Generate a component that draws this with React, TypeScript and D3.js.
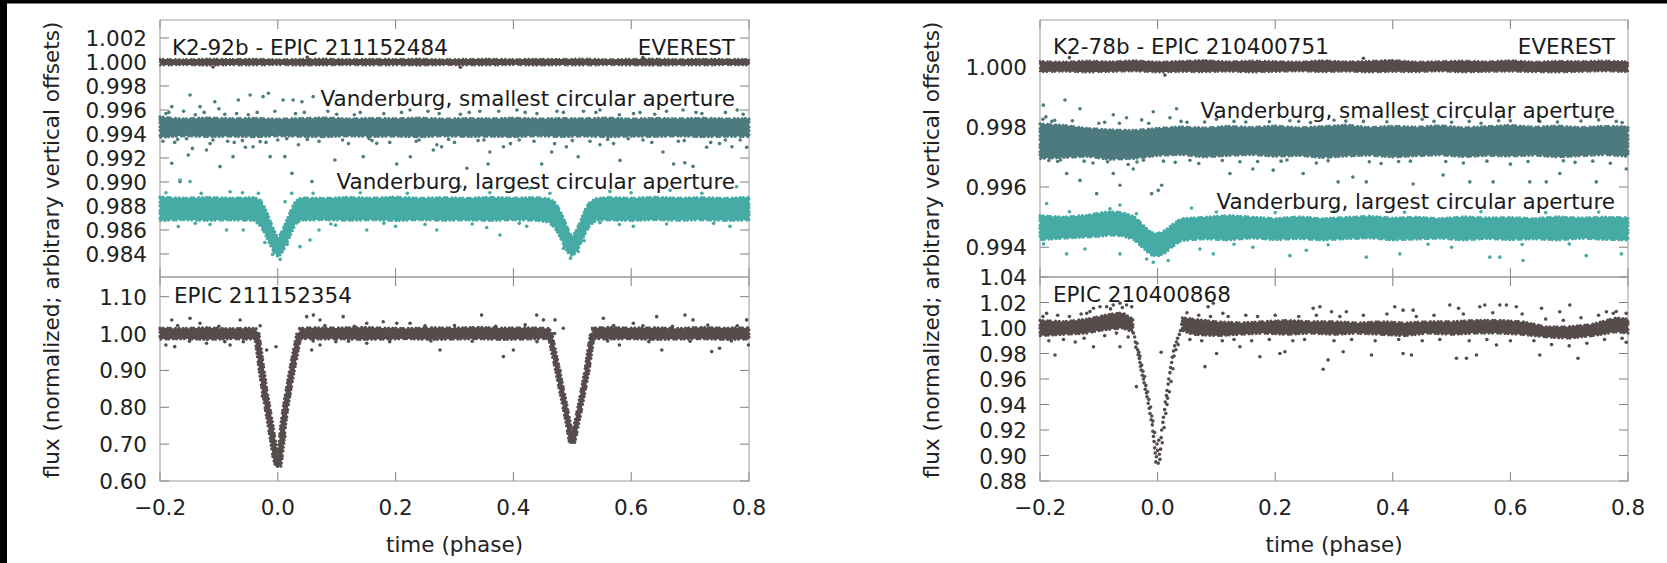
import React from 'react';
import * as d3 from 'd3';

// ---- axes ----
const phaseTicks = [-0.2, 0, 0.2, 0.4, 0.6, 0.8];
const k92TopTicks = [0.984, 0.986, 0.988, 0.99, 0.992, 0.994, 0.996, 0.998, 1.0, 1.002];
const k92BotTicks = [0.6, 0.7, 0.8, 0.9, 1.0, 1.1];
const k78TopTicks = [0.994, 0.996, 0.998, 1.0];
const k78BotTicks = [0.88, 0.9, 0.92, 0.94, 0.96, 0.98, 1.0, 1.02, 1.04];

// common phase knots for the flat light curves
const flatGrid = [-0.2, -0.16, -0.12, -0.08, -0.04, 0, 0.04, 0.08, 0.12, 0.16, 0.2, 0.24, 0.28, 0.32, 0.36, 0.4, 0.44, 0.48, 0.52, 0.56, 0.6, 0.64, 0.68, 0.72, 0.76, 0.8];

// ---- K2-92b, EVEREST ----
const k92EverestLo = [0.99972, 0.99975, 0.99971, 0.99974, 0.99972, 0.99976, 0.99971, 0.99973, 0.99975, 0.99972, 0.99974, 0.99971, 0.99975, 0.99973, 0.99972, 0.99976, 0.99971, 0.99974, 0.99972, 0.99975, 0.99973, 0.99971, 0.99974, 0.99972, 0.99975, 0.99973];
const k92EverestHi = [1.00025, 1.00022, 1.00027, 1.00024, 1.00026, 1.00022, 1.00025, 1.00028, 1.00023, 1.00026, 1.00024, 1.00027, 1.00022, 1.00025, 1.00027, 1.00023, 1.00026, 1.00024, 1.00028, 1.00022, 1.00025, 1.00027, 1.00023, 1.00026, 1.00024, 1.00025];
const k92EverestDots: [number, number][] = [[-0.11, 0.99958], [0.31, 0.99956], [0.62, 1.00038], [0.05, 1.00039]];

// ---- K2-92b, Vanderburg smallest aperture ----
const k92SmallLo = [0.99372, 0.99385, 0.99378, 0.99382, 0.99376, 0.99385, 0.9938, 0.99377, 0.99384, 0.99379, 0.99382, 0.99376, 0.99384, 0.99379, 0.99381, 0.99377, 0.99385, 0.99378, 0.99383, 0.99376, 0.99382, 0.99379, 0.99384, 0.99377, 0.99381, 0.99378];
const k92SmallHi = [0.99542, 0.99525, 0.99535, 0.99528, 0.99532, 0.99524, 0.9953, 0.99535, 0.99526, 0.99531, 0.99528, 0.99534, 0.99525, 0.9953, 0.99527, 0.99533, 0.99526, 0.9953, 0.99528, 0.99534, 0.99525, 0.99531, 0.99527, 0.99532, 0.99526, 0.9953];
const k92SmallDots: [number, number][] = [
  [-0.18, 0.99628], [-0.149, 0.99725], [-0.132, 0.99628], [-0.107, 0.99669], [-0.067, 0.99683], [-0.047, 0.99725], [-0.025, 0.99711], [-0.016, 0.99739], [0.009, 0.99683], [0.026, 0.99683], [0.041, 0.99669], [0.06, 0.99711],
  [-0.18, 0.99156], [-0.152, 0.99225], [-0.121, 0.99267], [-0.098, 0.99128], [-0.076, 0.99211], [-0.074, 0.9933], [-0.042, 0.99294], [-0.03, 0.99336], [-0.013, 0.99211], [0.012, 0.99211], [0.024, 0.99072], [0.058, 0.99003], [-0.166, 0.99003], [0.097, 0.99183], [0.145, 0.99211], [0.168, 0.99322], [0.202, 0.9915], [0.225, 0.9921],
  [0.264, 0.99267], [0.278, 0.99294], [0.321, 0.99114], [0.357, 0.9915], [0.36, 0.9925], [0.383, 0.99294], [0.448, 0.9915], [0.465, 0.9925], [0.49, 0.99294], [0.51, 0.9921], [0.547, 0.9931], [0.581, 0.9918], [0.654, 0.9925], [0.672, 0.9915], [0.691, 0.9916], [0.705, 0.9913], [0.728, 0.9929], [0.75, 0.9932], [0.771, 0.99294], [0.796, 0.9929],
  [0.2245, 0.996], [0.274, 0.9957], [0.343, 0.9959], [0.406, 0.996], [0.474, 0.9959], [0.519, 0.9959], [0.547, 0.996], [0.604, 0.9957], [0.688, 0.996], [0.78, 0.996],
  [-0.19, 0.9957], [-0.14, 0.9956], [-0.09, 0.99565], [-0.05, 0.9956], [0.03, 0.9957], [0.1, 0.99565], [0.13, 0.9956], [0.18, 0.9957], [0.31, 0.99565], [0.44, 0.9957], [0.58, 0.9956], [0.64, 0.99565], [0.72, 0.9957], [0.79, 0.99565],
  [-0.17, 0.99355], [-0.11, 0.9935], [-0.06, 0.99345], [0.0, 0.9935], [0.05, 0.99355], [0.11, 0.9935], [0.16, 0.99345], [0.24, 0.9935], [0.29, 0.99355], [0.34, 0.99345], [0.41, 0.9935], [0.5, 0.99345], [0.56, 0.99355], [0.62, 0.9935], [0.69, 0.99345], [0.76, 0.9935],
  [-0.195, 0.9934], [-0.185, 0.9958], [-0.175, 0.9933], [-0.16, 0.9959], [-0.155, 0.9936], [-0.145, 0.9928], [-0.125, 0.9958], [-0.115, 0.9932], [-0.1, 0.9961], [-0.085, 0.9934], [-0.07, 0.9957], [-0.055, 0.9929], [-0.035, 0.9958], [-0.02, 0.9933], [-0.005, 0.9959], [0.015, 0.9936], [0.035, 0.9931], [0.045, 0.9958], [0.07, 0.9934], [0.085, 0.9959], [0.12, 0.9932], [0.14, 0.9958], [0.155, 0.9936], [0.19, 0.9933], [0.21, 0.9958], [0.235, 0.9934], [0.255, 0.9959], [0.27, 0.9931], [0.3, 0.9933], [0.325, 0.9958], [0.35, 0.9935], [0.375, 0.9959], [0.395, 0.9932], [0.42, 0.9958], [0.435, 0.9934], [0.47, 0.9932], [0.485, 0.9958], [0.53, 0.9934], [0.54, 0.9958], [0.57, 0.9932], [0.595, 0.9936], [0.615, 0.9958], [0.635, 0.9933], [0.66, 0.9959], [0.68, 0.9934], [0.71, 0.9958], [0.735, 0.9933], [0.76, 0.9958], [0.785, 0.9935],
];

// ---- K2-92b, Vanderburg largest aperture (two eclipses) ----
const k92LargePhase = [-0.2, -0.16, -0.12, -0.08, -0.04, -0.03, -0.024, -0.018, -0.012, -0.006, 0, 0.006, 0.012, 0.018, 0.024, 0.03, 0.04, 0.08, 0.12, 0.16, 0.2, 0.24, 0.28, 0.32, 0.36, 0.4, 0.44, 0.46, 0.47, 0.476, 0.482, 0.488, 0.494, 0.5, 0.506, 0.512, 0.518, 0.524, 0.53, 0.54, 0.56, 0.6, 0.64, 0.68, 0.72, 0.76, 0.8];
const k92LargeLo = [0.98678, 0.98686, 0.9868, 0.98684, 0.9868, 0.98635, 0.9859, 0.9853, 0.98465, 0.9841, 0.9838, 0.984, 0.98455, 0.9852, 0.98585, 0.9865, 0.98682, 0.98686, 0.9868, 0.98685, 0.98678, 0.98686, 0.9868, 0.98684, 0.98679, 0.98685, 0.9868, 0.98665, 0.9862, 0.9857, 0.9851, 0.9845, 0.98405, 0.98385, 0.9841, 0.98465, 0.9853, 0.9859, 0.9864, 0.9868, 0.98684, 0.98679, 0.98686, 0.9868, 0.98685, 0.98679, 0.98683];
const k92LargeHi = [0.98875, 0.98865, 0.98872, 0.98866, 0.9887, 0.9885, 0.98805, 0.9874, 0.98665, 0.98595, 0.9853, 0.9858, 0.98645, 0.98715, 0.98785, 0.9884, 0.98868, 0.98864, 0.98872, 0.98866, 0.98874, 0.98865, 0.9887, 0.98864, 0.98873, 0.98866, 0.98871, 0.9886, 0.98835, 0.9879, 0.98735, 0.98665, 0.98595, 0.9854, 0.9859, 0.98655, 0.98725, 0.9879, 0.98835, 0.98862, 0.98872, 0.98865, 0.98873, 0.98866, 0.9887, 0.98864, 0.98872];
const k92LargeDots: [number, number][] = [
  [-0.169, 0.98628], [-0.115, 0.98645], [-0.087, 0.986], [-0.0586, 0.986], [0.0377, 0.98461], [0.0547, 0.98517], [0.07, 0.986], [0.098, 0.9864], [0.151, 0.986], [0.2, 0.9863], [0.27, 0.986], [0.3547, 0.9862], [0.377, 0.98558], [0.4226, 0.9863], [0.547, 0.9866], [0.6036, 0.9863], [0.7677, 0.9863],
  [-0.166, 0.99017], [-0.149, 0.99003], [-0.081, 0.98919], [-0.033, 0.98905], [0.0122, 0.98836], [0.0236, 0.98905], [0.3093, 0.98961], [0.428, 0.98947], [0.462, 0.98905], [0.564, 0.9892], [0.666, 0.9893], [0.779, 0.9896],
  [-0.19, 0.9891], [-0.13, 0.98905], [-0.06, 0.9891], [0.06, 0.98905], [0.14, 0.9891], [0.22, 0.98905], [0.36, 0.9891], [0.6, 0.9891], [0.72, 0.98905],
  [-0.14, 0.98655], [-0.03, 0.98645], [0.09, 0.9865], [0.18, 0.98655], [0.25, 0.98645], [0.33, 0.9865], [0.41, 0.98655], [0.58, 0.98645], [0.66, 0.9865], [0.74, 0.98655],
  [-0.022, 0.98495], [-0.009, 0.98395], [0.004, 0.98355], [0.016, 0.9848], [0.485, 0.98445], [0.497, 0.98365], [0.51, 0.9842], [0.52, 0.9851],
];

// ---- EPIC 211152354 (eclipsing binary) ----
const e354Phase = [-0.2, -0.16, -0.12, -0.08, -0.05, -0.036, 0, 0.037, 0.06, 0.1, 0.14, 0.18, 0.22, 0.26, 0.3, 0.34, 0.38, 0.42, 0.462, 0.5, 0.534, 0.56, 0.6, 0.64, 0.68, 0.72, 0.76, 0.8];
const e354Lo = [0.985, 0.986, 0.984, 0.986, 0.985, 0.987, null, 0.987, 0.985, 0.986, 0.984, 0.985, 0.986, 0.984, 0.985, 0.986, 0.984, 0.985, 0.987, null, 0.987, 0.985, 0.986, 0.984, 0.985, 0.986, 0.984, 0.985];
const e354Hi = [1.015, 1.014, 1.016, 1.013, 1.015, 1.013, null, 1.014, 1.016, 1.015, 1.017, 1.015, 1.014, 1.016, 1.015, 1.017, 1.015, 1.016, 1.014, null, 1.015, 1.017, 1.015, 1.016, 1.014, 1.017, 1.015, 1.016];
// eclipse walls: flux level -> phase edges
const e354PrimInFlux = [1.0, 0.95, 0.9, 0.85, 0.8, 0.75, 0.7, 0.66, 0.64];
const e354PrimInLeft = [-0.04, -0.0358, -0.0316, -0.0272, -0.0218, -0.0166, -0.0116, -0.0078, -0.0038];
const e354PrimInRight = [-0.0318, -0.0273, -0.0231, -0.0187, -0.0133, -0.0081, -0.0031, 0.0008, 0.0018];
const e354PrimOutFlux = [0.64, 0.66, 0.7, 0.75, 0.8, 0.85, 0.9, 0.95, 1.0];
const e354PrimOutLeft = [-0.0032, -0.0012, 0.0018, 0.0048, 0.009, 0.0143, 0.0198, 0.0258, 0.0322];
const e354PrimOutRight = [0.0052, 0.0072, 0.0102, 0.0132, 0.0174, 0.0227, 0.0282, 0.0342, 0.0405];
const e354SecInFlux = [1.0, 0.95, 0.9, 0.85, 0.8, 0.75, 0.72, 0.705];
const e354SecInLeft = [0.4582, 0.4647, 0.4714, 0.4777, 0.4842, 0.4902, 0.4932, 0.495];
const e354SecInRight = [0.4657, 0.4722, 0.4789, 0.4852, 0.4917, 0.4977, 0.5007, 0.5025];
const e354SecOutFlux = [0.705, 0.72, 0.75, 0.8, 0.85, 0.9, 0.95, 1.0];
const e354SecOutLeft = [0.4968, 0.4993, 0.5028, 0.5093, 0.5153, 0.5213, 0.5258, 0.5308];
const e354SecOutRight = [0.5042, 0.5067, 0.5102, 0.5167, 0.5227, 0.5287, 0.5332, 0.538];
const e354Dots: [number, number][] = [
  [-0.18, 1.0369], [-0.149, 1.0414], [-0.132, 1.028], [-0.064, 1.0369], [-0.19, 0.969], [-0.175, 0.9645], [-0.121, 0.9737], [-0.081, 0.969], [-0.0586, 0.978], [0.049, 1.0458], [0.0604, 1.05], [0.0717, 1.0369], [0.111, 1.0458], [0.151, 1.028], [0.179, 1.032], [0.202, 1.028], [0.2245, 1.028], [0.0575, 0.9555], [0.0717, 0.969], [0.0986, 0.978], [0.151, 0.9737],
  [0.2754, 0.9555], [0.346, 1.05], [0.383, 0.9374], [0.4, 0.9555], [0.4396, 1.05], [0.451, 1.037], [0.4706, 1.037], [0.4847, 1.0143], [0.47, 1.0],
  [0.5527, 1.0414], [0.58, 0.969], [0.6036, 1.028], [0.6433, 1.0458], [0.652, 0.9555], [0.6913, 1.05], [0.705, 1.037], [0.7367, 0.951], [0.75, 0.9601], [0.796, 1.037], [0.799, 0.969],
  [-0.0189, 0.9555], [-0.003, 0.964], [0.012, 0.72], [-0.009, 0.7], [0.004, 0.68], [-0.026, 0.83], [0.02, 0.84], [0.479, 0.9], [0.52, 0.86],
  [-0.17, 1.022], [-0.1, 1.02], [-0.03, 1.021], [0.08, 1.022], [0.13, 1.02], [0.25, 1.021], [0.3, 1.022], [0.37, 1.02], [0.42, 1.024], [0.57, 1.022], [0.62, 1.021], [0.67, 1.02], [0.73, 1.023], [0.78, 1.021],
  [-0.15, 0.979], [-0.09, 0.978], [0.06, 0.98], [0.12, 0.979], [0.19, 0.978], [0.26, 0.98], [0.33, 0.979], [0.44, 0.978], [0.56, 0.98], [0.63, 0.978], [0.7, 0.979], [0.77, 0.98],
];

// ---- K2-78b, EVEREST ----
const k78EverestLo = [0.99982, 0.99984, 0.99981, 0.99983, 0.99985, 0.99981, 0.99983, 0.99982, 0.99984, 0.99981, 0.99983, 0.99985, 0.99982, 0.99984, 0.99981, 0.99983, 0.99982, 0.99985, 0.99981, 0.99983, 0.99984, 0.99982, 0.99981, 0.99983, 0.99985, 0.99982];
const k78EverestHi = [1.00018, 1.00016, 1.0002, 1.00017, 1.00021, 1.00016, 1.00019, 1.00022, 1.00017, 1.0002, 1.00018, 1.00016, 1.00021, 1.00017, 1.00019, 1.00022, 1.00016, 1.00018, 1.0002, 1.00017, 1.00021, 1.00016, 1.00019, 1.00018, 1.0002, 1.00017];
const k78EverestDots: [number, number][] = [[0.0125, 0.99972], [-0.15, 1.0003], [0.35, 1.00028]];

// ---- K2-78b, Vanderburg smallest aperture ----
const k78SmallLo = [0.99695, 0.99698, 0.99702, 0.99692, 0.99695, 0.99705, 0.99708, 0.997, 0.99705, 0.99708, 0.99702, 0.99705, 0.99698, 0.99703, 0.99706, 0.997, 0.99704, 0.99707, 0.99701, 0.99705, 0.99703, 0.99706, 0.997, 0.99704, 0.99708, 0.99702];
const k78SmallHi = [0.9981, 0.99805, 0.99795, 0.9979, 0.99788, 0.99795, 0.998, 0.99796, 0.99802, 0.99798, 0.99803, 0.99797, 0.99801, 0.99806, 0.99798, 0.99802, 0.99799, 0.99804, 0.99797, 0.99801, 0.99805, 0.99799, 0.99803, 0.99798, 0.99802, 0.998];
const k78SmallDots: [number, number][] = [
  [-0.1943, 0.99872], [-0.1575, 0.99889], [-0.19, 0.99833], [-0.132, 0.9986], [-0.0754, 0.9984], [-0.0528, 0.9983], [-0.027, 0.99823], [-0.0074, 0.9985], [0.021, 0.9983], [0.0323, 0.9986], [0.225, 0.9982], [0.1, 0.99825], [0.3, 0.99822], [0.45, 0.99825], [0.6, 0.9982], [0.75, 0.99823],
  [-0.1547, 0.99645], [-0.132, 0.99622], [-0.1036, 0.99578], [-0.0754, 0.99645], [-0.064, 0.99606], [-0.0414, 0.9966], [-0.024, 0.99689], [-0.0102, 0.99578], [0.0012, 0.99589], [0.007, 0.99606], [0.055, 0.99689], [0.092, 0.99722], [0.123, 0.99645], [0.162, 0.9966], [0.22, 0.9969], [0.1966, 0.99656], [0.2476, 0.99645], [0.307, 0.99617], [0.332, 0.99633], [0.355, 0.99617], [0.4346, 0.9961], [0.4856, 0.9964], [0.531, 0.99617], [0.5706, 0.99617], [0.633, 0.99617], [0.661, 0.99617], [0.684, 0.99645], [0.746, 0.99617], [0.797, 0.9966],
  [-0.17, 0.99685], [-0.11, 0.9968], [-0.05, 0.99675], [0.03, 0.99682], [0.07, 0.99678], [0.14, 0.99684], [0.27, 0.9968], [0.38, 0.99678], [0.41, 0.99685], [0.52, 0.9968], [0.6, 0.99676], [0.71, 0.99682], [0.77, 0.99679],
  [-0.18, 0.99818], [-0.1, 0.99812], [0.05, 0.99815], [0.15, 0.99816], [0.26, 0.99814], [0.35, 0.99818], [0.5, 0.99815], [0.55, 0.99812], [0.68, 0.99816], [0.79, 0.99814],
  [-0.195, 0.99825], [-0.185, 0.99688], [-0.175, 0.99822], [-0.165, 0.9969], [-0.145, 0.9982], [-0.125, 0.99686], [-0.09, 0.99815], [-0.085, 0.99684], [-0.065, 0.99812], [-0.035, 0.99683], [-0.015, 0.99812], [0.01, 0.99686], [0.04, 0.99818], [0.08, 0.99816], [0.11, 0.99688], [0.13, 0.99818], [0.17, 0.99685], [0.19, 0.99817], [0.21, 0.99686], [0.24, 0.99818], [0.29, 0.99687], [0.32, 0.99819], [0.36, 0.99684], [0.39, 0.99817], [0.43, 0.99686], [0.47, 0.99818], [0.49, 0.99685], [0.53, 0.99818], [0.56, 0.99686], [0.58, 0.9982], [0.63, 0.99685], [0.65, 0.99818], [0.69, 0.99687], [0.72, 0.99819], [0.74, 0.99686], [0.78, 0.99818],
];

// ---- K2-78b, Vanderburg largest aperture ----
const k78LargePhase = [-0.2, -0.16, -0.12, -0.1, -0.08, -0.06, -0.04, -0.025, -0.012, 0, 0.012, 0.025, 0.04, 0.08, 0.12, 0.16, 0.2, 0.24, 0.28, 0.32, 0.36, 0.4, 0.44, 0.48, 0.52, 0.56, 0.6, 0.64, 0.68, 0.72, 0.76, 0.8];
const k78LargeLo = [0.99425, 0.9943, 0.99434, 0.99436, 0.9944, 0.99438, 0.99425, 0.99398, 0.99375, 0.9937, 0.9938, 0.99402, 0.99422, 0.99428, 0.99424, 0.99431, 0.99425, 0.99429, 0.99424, 0.99428, 0.99431, 0.99424, 0.99427, 0.9943, 0.99424, 0.99429, 0.99425, 0.99428, 0.99424, 0.9943, 0.99426, 0.99424];
const k78LargeHi = [0.99505, 0.995, 0.99506, 0.99514, 0.99518, 0.99515, 0.99502, 0.99475, 0.9945, 0.99445, 0.99455, 0.99475, 0.99495, 0.995, 0.99505, 0.995, 0.99495, 0.99501, 0.99495, 0.99499, 0.99503, 0.99497, 0.995, 0.99495, 0.99501, 0.99497, 0.99499, 0.99495, 0.99501, 0.99497, 0.995, 0.99498];
const k78LargeDots: [number, number][] = [
  [-0.1887, 0.99545], [-0.081, 0.99528], [-0.064, 0.9954], [-0.036, 0.99511], [0.0578, 0.9953], [-0.194, 0.99411], [-0.1547, 0.99378], [-0.1236, 0.99394], [-0.064, 0.99378], [-0.0186, 0.99361], [-0.0074, 0.9935], [0.018, 0.99356], [0.072, 0.99394], [0.0947, 0.99378], [0.162, 0.994], [0.225, 0.99372], [0.253, 0.9939], [0.355, 0.99367], [0.412, 0.99378], [0.5, 0.994], [0.565, 0.99367], [0.582, 0.99367], [0.6215, 0.99356], [0.729, 0.99372], [0.7887, 0.99378],
  [-0.15, 0.99518], [0.1, 0.99517], [0.2, 0.99515], [0.3, 0.99519], [0.42, 0.99516], [0.55, 0.99518], [0.66, 0.99515], [0.75, 0.99517], [0.13, 0.9941], [0.29, 0.99408], [0.46, 0.9941], [0.62, 0.99409], [0.7, 0.99411],
];

// ---- EPIC 210400868 ----
const e868Phase = [-0.2, -0.16, -0.12, -0.1, -0.08, -0.06, -0.042, 0, 0.042, 0.06, 0.1, 0.14, 0.18, 0.22, 0.26, 0.3, 0.34, 0.38, 0.42, 0.46, 0.5, 0.54, 0.58, 0.62, 0.66, 0.7, 0.74, 0.78, 0.8];
const e868Lo = [0.994, 0.995, 0.996, 0.998, 0.999, 1.0, 0.997, null, 0.998, 0.995, 0.994, 0.995, 0.996, 0.995, 0.996, 0.995, 0.996, 0.995, 0.994, 0.996, 0.995, 0.996, 0.996, 0.995, 0.993, 0.992, 0.994, 0.997, 0.996];
const e868Hi = [1.006, 1.005, 1.007, 1.009, 1.011, 1.012, 1.007, null, 1.008, 1.007, 1.005, 1.004, 1.005, 1.006, 1.005, 1.005, 1.004, 1.005, 1.004, 1.005, 1.005, 1.006, 1.006, 1.005, 1.001, 1.001, 1.003, 1.008, 1.007];
const e868DipDots: [number, number][] = [
  [-0.041, 0.996], [-0.039, 0.993], [-0.038, 0.989], [-0.037, 0.985], [-0.036, 0.954], [-0.035, 0.988], [-0.034, 0.983], [-0.033, 0.979], [-0.032, 0.981], [-0.031, 0.976], [-0.03, 0.973], [-0.03, 0.978], [-0.029, 0.97], [-0.028, 0.967], [-0.027, 0.971], [-0.026, 0.963], [-0.025, 0.966], [-0.024, 0.96], [-0.023, 0.957], [-0.022, 0.962], [-0.021, 0.952], [-0.02, 0.955], [-0.019, 0.949], [-0.018, 0.946], [-0.017, 0.95], [-0.016, 0.941], [-0.015, 0.944], [-0.014, 0.937], [-0.013, 0.933], [-0.012, 0.938], [-0.011, 0.928], [-0.01, 0.931], [-0.009, 0.924], [-0.008, 0.919], [-0.008, 0.927], [-0.007, 0.915], [-0.006, 0.911], [-0.005, 0.906], [-0.005, 0.918], [-0.004, 0.902], [-0.003, 0.895], [-0.002, 0.899], [-0.001, 0.909],
  [0.0, 0.904], [0.001, 0.894], [0.002, 0.912], [0.003, 0.901], [0.004, 0.897], [0.005, 0.905], [0.006, 0.981], [0.006, 0.914], [0.007, 0.92], [0.008, 0.91], [0.009, 0.926], [0.01, 0.93], [0.011, 0.922], [0.012, 0.936], [0.013, 0.942], [0.014, 0.933], [0.015, 0.947], [0.016, 0.951], [0.016, 0.94], [0.017, 0.945], [0.018, 0.956], [0.019, 0.96], [0.02, 0.95], [0.021, 0.965], [0.022, 0.969], [0.023, 0.958], [0.024, 0.973], [0.025, 0.977], [0.026, 0.968], [0.027, 0.982], [0.028, 0.978], [0.029, 0.986], [0.031, 0.983], [0.032, 0.989], [0.034, 0.992], [0.035, 0.987], [0.037, 0.995], [0.039, 0.998], [0.041, 1.003],
];
const e868Dots: [number, number][] = [
  [-0.1887, 1.0115], [-0.1745, 0.9788], [-0.1206, 1.0115], [-0.109, 1.0155], [-0.098, 1.0167], [-0.0867, 1.0167], [-0.0754, 1.018], [-0.064, 1.0194], [-0.0528, 1.018], [-0.044, 1.0167], [-0.109, 0.9853], [-0.064, 0.9853], [0.086, 1.0167], [0.0947, 1.0194], [0.1003, 0.98], [0.0805, 0.9697], [0.111, 1.0115], [0.14, 0.9853], [0.174, 0.9775], [0.2165, 0.9814], [0.208, 0.98],
  [0.2646, 1.0155], [0.276, 1.0167], [0.2816, 0.9676], [0.29, 0.975], [0.2958, 1.0128], [0.321, 1.0128], [0.3156, 0.9814], [0.3638, 0.9788], [0.4034, 1.0167], [0.4175, 1.014], [0.4346, 1.014], [0.4175, 0.98], [0.4317, 0.9788], [0.497, 1.018], [0.5118, 1.0155], [0.5083, 0.9763], [0.5253, 0.9763], [0.5423, 0.9788], [0.548, 1.0167], [0.5565, 1.018], [0.582, 1.018], [0.5933, 1.018], [0.61, 1.0167], [0.5763, 0.9867], [0.65, 0.9788], [0.653, 1.0155], [0.684, 1.0128], [0.701, 1.018], [0.715, 0.9763], [0.7633, 1.0128], [0.775, 1.0115], [0.797, 1.0115], [0.797, 0.9888],
  [-0.195, 1.009], [-0.185, 0.99], [-0.17, 1.01], [-0.16, 0.991], [-0.15, 1.009], [-0.14, 0.989], [-0.13, 1.011], [-0.125, 0.992], [-0.115, 1.013], [-0.09, 0.994], [-0.08, 1.015], [-0.07, 0.996], [-0.06, 1.016], [-0.05, 0.993], [0.05, 1.012], [0.055, 0.991], [0.07, 1.01], [0.075, 0.99], [0.09, 1.009], [0.11, 0.99], [0.12, 1.009], [0.13, 0.991], [0.15, 1.01], [0.16, 0.99], [0.17, 1.009], [0.19, 0.991], [0.2, 1.01], [0.23, 0.99], [0.24, 1.009], [0.25, 0.991], [0.27, 1.01], [0.3, 0.99], [0.31, 1.009], [0.33, 0.991], [0.35, 1.01], [0.37, 0.99], [0.39, 1.011], [0.41, 0.991], [0.44, 1.009], [0.45, 0.99], [0.47, 1.01], [0.48, 0.991], [0.52, 1.011], [0.53, 0.99], [0.56, 0.991], [0.57, 1.012], [0.6, 0.99], [0.62, 1.011], [0.64, 0.99], [0.66, 1.007], [0.67, 0.987], [0.69, 1.006], [0.7, 0.986], [0.72, 1.008], [0.73, 0.988], [0.75, 1.01], [0.76, 0.991], [0.78, 1.013], [0.79, 0.992],
];

const FONT = "'DejaVu Sans', Verdana, sans-serif";
const FS = 21.5;
const C_EVEREST = '#564c4c';
const C_SMALL = '#4d7a7e';
const C_LARGE = '#45aba4';
const FRAME = '#9a9a9a';
const TICK = '#808080';
// dotted outline that roughens the edge of the dense point clouds
const FUZZ_DASH = '0 3.1 0 4.6 0 2.7 0 5.2 0 3.6 0 4.1';

type Band = { phase: number[]; lo: (number | null)[]; hi: (number | null)[] };
type Wall = { flux: number[]; left: number[]; right: number[] };
type Series = { color: string; fuzz: number; bands: Band[]; walls: Wall[]; dots: [number, number][] };
type Label = { text: string; x: number; y: number; anchor: 'start' | 'end'; box?: boolean };

type Sub = {
  y0: number;
  y1: number;
  domain: [number, number];
  ticks: number[];
  fmt: (v: number) => string;
  series: Series[];
  labels: Label[];
};

type PanelCfg = { x0: number; x1: number; subs: Sub[] };

const fmt3 = d3.format('.3f');
const fmt2 = d3.format('.2f');
const fmtX = d3.format('.1f');

const panels: PanelCfg[] = [
  {
    x0: 160,
    x1: 749,
    subs: [
      {
        y0: 20, y1: 277, domain: [0.98208, 1.0035], ticks: k92TopTicks, fmt: fmt3,
        series: [
          { color: C_EVEREST, fuzz: 2.4, bands: [{ phase: flatGrid, lo: k92EverestLo, hi: k92EverestHi }], walls: [], dots: k92EverestDots },
          { color: C_SMALL, fuzz: 3.2, bands: [{ phase: flatGrid, lo: k92SmallLo, hi: k92SmallHi }], walls: [], dots: k92SmallDots },
          { color: C_LARGE, fuzz: 3.2, bands: [{ phase: k92LargePhase, lo: k92LargeLo, hi: k92LargeHi }], walls: [], dots: k92LargeDots },
        ],
        labels: [
          { text: 'K2-92b - EPIC 211152484', x: 172, y: 55, anchor: 'start' },
          { text: 'EVEREST', x: 735, y: 55, anchor: 'end' },
          { text: 'Vanderburg, smallest circular aperture', x: 735, y: 106, anchor: 'end' },
          { text: 'Vanderburg, largest circular aperture', x: 735, y: 189, anchor: 'end' },
        ],
      },
      {
        y0: 277, y1: 481, domain: [0.6, 1.1534], ticks: k92BotTicks, fmt: fmt2,
        series: [
          {
            color: C_EVEREST,
            fuzz: 3.2,
            bands: [{ phase: e354Phase, lo: e354Lo, hi: e354Hi }],
            walls: [
              { flux: e354PrimInFlux, left: e354PrimInLeft, right: e354PrimInRight },
              { flux: e354PrimOutFlux, left: e354PrimOutLeft, right: e354PrimOutRight },
              { flux: e354SecInFlux, left: e354SecInLeft, right: e354SecInRight },
              { flux: e354SecOutFlux, left: e354SecOutLeft, right: e354SecOutRight },
            ],
            dots: e354Dots,
          },
        ],
        labels: [{ text: 'EPIC 211152354', x: 174, y: 303, anchor: 'start', box: true }],
      },
    ],
  },
  {
    x0: 1040,
    x1: 1628,
    subs: [
      {
        y0: 20, y1: 277, domain: [0.99301, 1.00155], ticks: k78TopTicks, fmt: fmt3,
        series: [
          { color: C_EVEREST, fuzz: 2.4, bands: [{ phase: flatGrid, lo: k78EverestLo, hi: k78EverestHi }], walls: [], dots: k78EverestDots },
          { color: C_SMALL, fuzz: 3.2, bands: [{ phase: flatGrid, lo: k78SmallLo, hi: k78SmallHi }], walls: [], dots: k78SmallDots },
          { color: C_LARGE, fuzz: 3.2, bands: [{ phase: k78LargePhase, lo: k78LargeLo, hi: k78LargeHi }], walls: [], dots: k78LargeDots },
        ],
        labels: [
          { text: 'K2-78b - EPIC 210400751', x: 1053, y: 54, anchor: 'start' },
          { text: 'EVEREST', x: 1615, y: 54, anchor: 'end' },
          { text: 'Vanderburg, smallest circular aperture', x: 1615, y: 118, anchor: 'end' },
          { text: 'Vanderburg, largest circular aperture', x: 1615, y: 209, anchor: 'end' },
        ],
      },
      {
        y0: 277, y1: 481, domain: [0.88, 1.04], ticks: k78BotTicks, fmt: fmt2,
        series: [
          { color: C_EVEREST, fuzz: 3.2, bands: [{ phase: e868Phase, lo: e868Lo, hi: e868Hi }], walls: [], dots: [...e868Dots, ...e868DipDots] },
        ],
        labels: [{ text: 'EPIC 210400868', x: 1053, y: 302, anchor: 'start', box: true }],
      },
    ],
  },
];

function SubPlot({ x0, x1, sub }: { x0: number; x1: number; sub: Sub }) {
  const xs = d3.scaleLinear().domain([-0.2, 0.8]).range([x0, x1]);
  const ys = d3.scaleLinear().domain(sub.domain).range([sub.y1, sub.y0]);
  const tl = 9;

  const bandPath = (b: Band) =>
    d3
      .area<number>()
      .defined((i) => b.lo[i] != null && b.hi[i] != null)
      .x((i) => xs(b.phase[i]))
      .y0((i) => ys(b.lo[i] as number))
      .y1((i) => ys(b.hi[i] as number))(d3.range(b.phase.length)) || '';

  const wallPath = (w: Wall) =>
    d3
      .area<number>()
      .y((i) => ys(w.flux[i]))
      .x0((i) => xs(w.left[i]))
      .x1((i) => xs(w.right[i]))(d3.range(w.flux.length)) || '';

  return (
    <g>
      {/* ticks */}
      {sub.ticks.map((t) => (
        <g key={'y' + t}>
          <line x1={x0} x2={x0 + tl} y1={ys(t)} y2={ys(t)} stroke={TICK} strokeWidth={1} />
          <line x1={x1 - tl} x2={x1} y1={ys(t)} y2={ys(t)} stroke={TICK} strokeWidth={1} />
          <text x={x0 - 13} y={ys(t) + 8} textAnchor="end" fontFamily={FONT} fontSize={FS} fill="#222">
            {sub.fmt(t)}
          </text>
        </g>
      ))}
      {phaseTicks.map((t) => (
        <g key={'x' + t}>
          <line x1={xs(t)} x2={xs(t)} y1={sub.y0} y2={sub.y0 + tl} stroke={TICK} strokeWidth={1} />
          <line x1={xs(t)} x2={xs(t)} y1={sub.y1 - tl} y2={sub.y1} stroke={TICK} strokeWidth={1} />
        </g>
      ))}
      <rect x={x0} y={sub.y0} width={x1 - x0} height={sub.y1 - sub.y0} fill="none" stroke={FRAME} strokeWidth={1} />
      {/* opaque label boxes */}
      {sub.labels
        .filter((l) => l.box)
        .map((l) => (
          <rect key={'b' + l.text} x={l.x - 3} y={l.y - 18} width={l.text.length * 12.8 + 6} height={23} fill="#fff" />
        ))}
      {/* data */}
      {sub.series.map((s, si) => (
        <g key={'s' + si} fill={s.color} stroke={s.color} strokeWidth={s.fuzz} strokeLinecap="round" strokeDasharray={FUZZ_DASH}>
          {s.bands.map((b, bi) => (
            <path key={'band' + bi} d={bandPath(b)} />
          ))}
          {s.walls.map((w, wi) => (
            <path key={'wall' + wi} d={wallPath(w)} />
          ))}
          {s.dots.map((d, di) => (
            <circle key={'d' + di} cx={xs(d[0])} cy={ys(d[1])} r={1.8} stroke="none" />
          ))}
        </g>
      ))}
      {sub.labels.map((l) => (
        <text key={'l' + l.text} x={l.x} y={l.y} textAnchor={l.anchor} fontFamily={FONT} fontSize={FS} fill="#1a1a1a">
          {l.text}
        </text>
      ))}
    </g>
  );
}

export default function App() {
  const W = 1667;
  const H = 563;
  return (
    <div style={{ position: 'absolute', left: 0, top: 0, width: W, height: H }}>
      <svg width={W} height={H} viewBox={`0 0 ${W} ${H}`} style={{ display: 'block', background: '#fff' }}>
        <rect x={0} y={0} width={W} height={H} fill="#fff" />
        <rect x={0} y={0} width={W} height={3.5} fill="#000" />
        <rect x={0} y={0} width={7} height={H} fill="#000" />
        {panels.map((p, pi) => {
          const xs = d3.scaleLinear().domain([-0.2, 0.8]).range([p.x0, p.x1]);
          return (
            <g key={'p' + pi}>
              {p.subs.map((s, si) => (
                <SubPlot key={pi + '-' + si} x0={p.x0} x1={p.x1} sub={s} />
              ))}
              {phaseTicks.map((t) => (
                <text key={'xl' + t} x={xs(t)} y={515} textAnchor="middle" fontFamily={FONT} fontSize={FS} fill="#222">
                  {fmtX(t)}
                </text>
              ))}
              <text x={(p.x0 + p.x1) / 2} y={552} textAnchor="middle" fontFamily={FONT} fontSize={FS} fill="#222">
                time (phase)
              </text>
              <text
                transform={`translate(${p.x0 - 101},250) rotate(-90)`}
                textAnchor="middle"
                fontFamily={FONT}
                fontSize={FS}
                fill="#222"
              >
                flux (normalized; arbitrary vertical offsets)
              </text>
            </g>
          );
        })}
      </svg>
    </div>
  );
}
